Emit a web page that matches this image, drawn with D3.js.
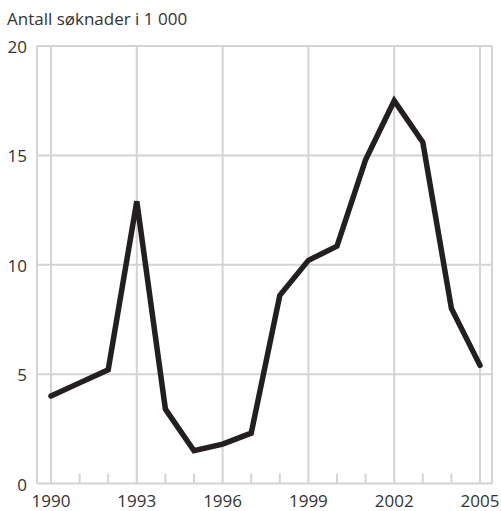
<!DOCTYPE html>
<html lang="no">
  <head>
    <meta charset="utf-8">
    <title>Antall søknader</title>
    <script type="text/javascript" src="https://d3js.org/d3.v7.min.js"></script>
    <style type="text/css">
    body {
      margin: 0;
      background: #ffffff;
    }
    text {
      font-family: "Open Sans", sans-serif;
      font-size: 17px;
      fill: #333333;
    }
    </style>
  </head>
  <body>
    <svg width="501" height="511" id="chart"></svg>
    <script type="text/javascript">

// data
const years = [1990, 1991, 1992, 1993, 1994, 1995, 1996, 1997, 1998, 1999, 2000, 2001, 2002, 2003, 2004, 2005];
const applications = [4.0, 4.6, 5.2, 12.9, 3.4, 1.5, 1.8, 2.3, 8.6, 10.2, 10.85, 14.8, 17.5, 15.6, 8.0, 5.4];
const yTicks = [0, 5, 10, 15, 20];
const xLabelYears = [1990, 1993, 1996, 1999, 2002, 2005];
const yTitle = "Antall søknader i 1 000";

// frame
const frameLeft = 37;
const frameRight = 492;
const frameTop = 46;
const frameBottom = 483.5;

const xScale = d3.scaleLinear()
    .domain([1990, 2005])
    .range([51, 480]);

const yScale = d3.scaleLinear()
    .domain([0, 20])
    .range([frameBottom, frameTop]);

const svg = d3.select("#chart");
const gridColor = "#d4d4d4";

// horizontal gridlines (the 0 and 20 lines are the frame)
svg.append("g")
    .selectAll("line")
    .data(yTicks)
    .join("line")
    .attr("x1", frameLeft)
    .attr("x2", frameRight)
    .attr("y1", d => yScale(d))
    .attr("y2", d => yScale(d))
    .attr("stroke", gridColor)
    .attr("stroke-width", 2);

// frame sides
svg.append("line")
    .attr("x1", frameLeft).attr("x2", frameLeft)
    .attr("y1", frameTop).attr("y2", frameBottom)
    .attr("stroke", gridColor).attr("stroke-width", 2);
svg.append("line")
    .attr("x1", frameRight).attr("x2", frameRight)
    .attr("y1", frameTop).attr("y2", frameBottom)
    .attr("stroke", gridColor).attr("stroke-width", 2);

// vertical gridlines every third year
svg.append("g")
    .selectAll("line")
    .data(xLabelYears)
    .join("line")
    .attr("x1", d => xScale(d))
    .attr("x2", d => xScale(d))
    .attr("y1", frameTop)
    .attr("y2", frameBottom)
    .attr("stroke", gridColor)
    .attr("stroke-width", 2);

// small ticks for the other years
svg.append("g")
    .selectAll("line")
    .data(years.filter(y => !xLabelYears.includes(y)))
    .join("line")
    .attr("x1", d => xScale(d))
    .attr("x2", d => xScale(d))
    .attr("y1", frameBottom - 10)
    .attr("y2", frameBottom)
    .attr("stroke", gridColor)
    .attr("stroke-width", 2);

// y labels
svg.append("g")
    .selectAll("text")
    .data(yTicks)
    .join("text")
    .attr("x", 27)
    .attr("y", d => yScale(d) + 7)
    .attr("text-anchor", "end")
    .text(d => d);

// x labels
svg.append("g")
    .selectAll("text")
    .data(xLabelYears)
    .join("text")
    .attr("x", d => xScale(d))
    .attr("y", 507)
    .attr("text-anchor", "middle")
    .text(d => d);

svg.append("text")
    .attr("x", 7)
    .attr("y", 25)
    .text(yTitle);

// the series
const line = d3.line()
    .x((d, i) => xScale(years[i]))
    .y(d => yScale(d));

svg.append("path")
    .datum(applications)
    .attr("d", line)
    .attr("fill", "none")
    .attr("stroke", "#231f20")
    .attr("stroke-width", 5.5)
    .attr("stroke-linejoin", "miter")
    .attr("stroke-linecap", "round");

    </script>
  </body>
</html>
